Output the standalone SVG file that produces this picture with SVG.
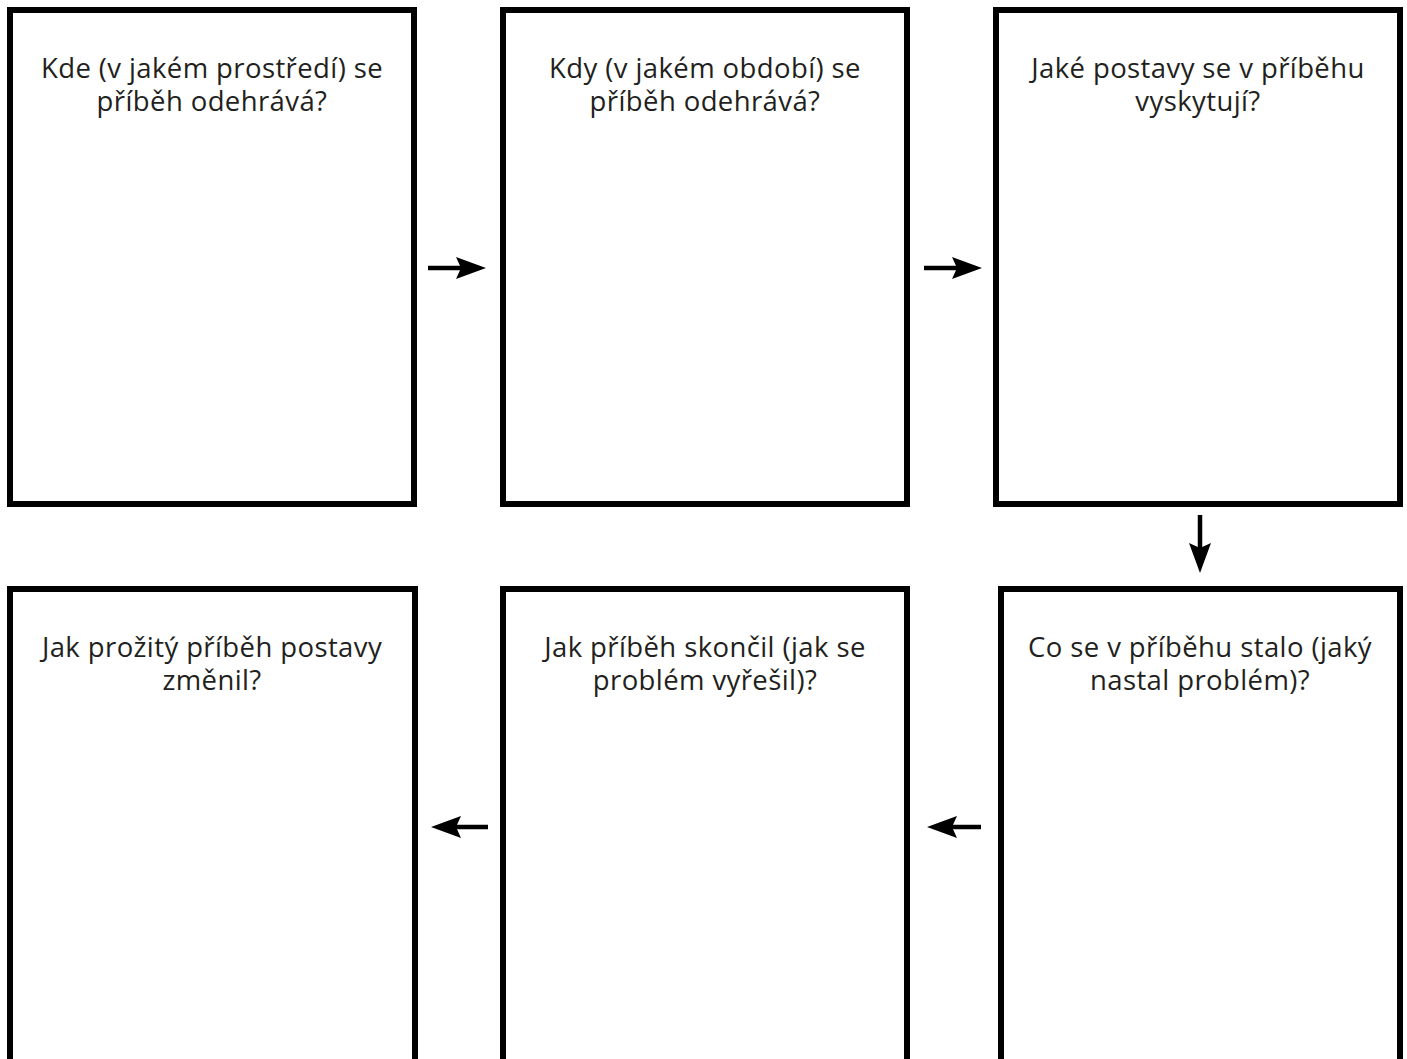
<svg xmlns="http://www.w3.org/2000/svg" width="1407" height="1059" viewBox="0 0 1407 1059">
<style>
.box{fill:#fff;stroke:#000;stroke-width:6}
.t{font-family:"Open Sans","Noto Sans","Liberation Sans",sans-serif;font-size:27.5px;letter-spacing:0.4px;fill:#231f20;text-anchor:middle}
.ln{stroke:#000;stroke-width:4.5;fill:none}
.hd{fill:#000}
</style>
<rect width="1407" height="1059" fill="#fff"/>
<g id="node1"><rect class="box" x="10" y="10" width="404" height="494"/>
<text class="t" x="212" y="78">Kde (v jakém prostředí) se</text><text class="t" x="212" y="111">příběh odehrává?</text></g>
<g id="node2"><rect class="box" x="503" y="10" width="404" height="494"/>
<text class="t" x="705" y="78">Kdy (v jakém období) se</text><text class="t" x="705" y="111">příběh odehrává?</text></g>
<g id="node3"><rect class="box" x="996" y="10" width="404" height="494"/>
<text class="t" x="1198" y="78">Jaké postavy se v příběhu</text><text class="t" x="1198" y="111">vyskytují?</text></g>
<g id="node4"><rect class="box" x="10" y="589" width="405" height="520"/>
<text class="t" x="212" y="657">Jak prožitý příběh postavy</text><text class="t" x="212" y="690">změnil?</text></g>
<g id="node5"><rect class="box" x="503" y="589" width="404" height="520"/>
<text class="t" x="705" y="657">Jak příběh skončil (jak se</text><text class="t" x="705" y="690">problém vyřešil)?</text></g>
<g id="node6"><rect class="box" x="1001" y="589" width="399" height="520"/>
<text class="t" x="1200" y="657">Co se v příběhu stalo (jaký</text><text class="t" x="1200" y="690">nastal problém)?</text></g>
<g id="connectors">
<line class="ln" x1="428" y1="268" x2="462" y2="268"/><polygon class="hd" points="486,268 456,257 461,268 456,279"/>
<line class="ln" x1="924" y1="268" x2="958" y2="268"/><polygon class="hd" points="982,268 952,257 957,268 952,279"/>
<line class="ln" x1="1200" y1="515" x2="1200" y2="549"/><polygon class="hd" points="1200,573 1189,543 1200,548 1211,543"/>
<line class="ln" x1="488" y1="827" x2="455" y2="827"/><polygon class="hd" points="431,827 461,816 456,827 461,838"/>
<line class="ln" x1="981" y1="827" x2="951" y2="827"/><polygon class="hd" points="927,827 957,816 952,827 957,838"/>
</g>
</svg>
